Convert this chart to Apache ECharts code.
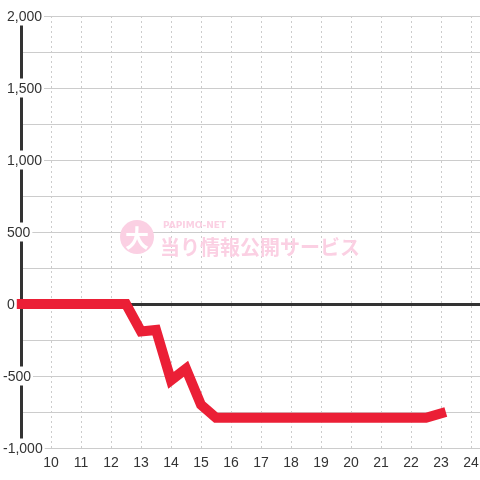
<!DOCTYPE html>
<html><head><meta charset="utf-8">
<script src="https://cdn.jsdelivr.net/npm/echarts@6/dist/echarts.min.js"></script>
<style>html,body{margin:0;padding:0;background:#fff}#c{width:480px;height:480px}</style>
</head><body><div id="c"></div>
<script>
var times = [9, 9.5, 10, 10.5, 11, 11.5, 12, 12.5, 13, 13.5, 14, 14.5, 15, 15.5, 16, 16.5, 17, 17.5, 18, 18.5, 19, 19.5, 20, 20.5, 21, 21.5, 22, 22.5, 23];
var values = [0, 0, 0, 0, 0, 0, 0, 0, -190, -180, -530, -450, -700, -790, -790, -790, -790, -790, -790, -790, -790, -790, -790, -790, -790, -790, -790, -790, -760];
var yTicks = [-1000, -500, 0, 500, 1000, 1500, 2000];
var xTicks = [10, 11, 12, 13, 14, 15, 16, 17, 18, 19, 20, 21, 22, 23, 24];

var data = times.map(function (t, i) { return [t, values[i]]; });
var chart = echarts.init(document.getElementById('c'), null, {renderer: 'canvas'});
var fmtNum = function (v) { return String(v).replace(/\B(?=(\d{3})+(?!\d))/g, ','); };
var pink = '#fbd0e3';
var labelFont = 'Liberation Sans, Arial, sans-serif';
var yMin = -1000, yMax = 2000, xMin = 9, xMax = 24.3;
chart.setOption({
  animation: false,
  backgroundColor: '#ffffff',
  grid: {left: 21, right: 0, top: 16, bottom: 32, containLabel: false, outerBoundsMode: 'none'},
  xAxis: [{
    type: 'value', min: xMin, max: xMax, interval: 1, position: 'bottom', z: 0,
    axisLine: {show: true, onZero: false, lineStyle: {color: '#cccccc', width: 1}},
    axisTick: {show: false},
    axisLabel: {
      margin: 8, color: '#333', fontSize: 14, fontFamily: labelFont,
      formatter: function (v) { return xTicks.indexOf(v) >= 0 ? String(v) : ''; }
    },
    splitLine: {show: true, lineStyle: {color: '#cccccc', type: [2, 3], width: 1}}
  }, {
    type: 'value', min: xMin, max: xMax, interval: 1, position: 'bottom', z: 0,
    axisLine: {show: true, onZero: true, lineStyle: {color: '#333333', width: 3}},
    axisTick: {show: false}, axisLabel: {show: false}, splitLine: {show: false}
  }],
  yAxis: [{
    type: 'value', min: yMin, max: yMax, interval: 500, position: 'left', z: 0,
    axisLine: {show: true, onZero: false, lineStyle: {color: '#333333', width: 3}},
    axisTick: {show: false},
    minorTick: {show: false, splitNumber: 2},
    minorSplitLine: {show: true, lineStyle: {color: '#cccccc', width: 1}},
    splitLine: {show: true, lineStyle: {color: '#cccccc', width: 1}},
    axisLabel: {show: false}
  }, {
    type: 'value', min: yMin, max: yMax, interval: 500, position: 'left', z: 6,
    axisLine: {show: false}, axisTick: {show: false}, splitLine: {show: false},
    axisLabel: {
      margin: 18, align: 'left',
      formatter: function (v) {
        if (yTicks.indexOf(v) < 0) return '';
        return (v < 0 ? '{n|' : '{p|') + fmtNum(v) + '}';
      },
      rich: {
        p: {color: '#333', fontSize: 14, fontFamily: labelFont, backgroundColor: '#ffffff', padding: [4, 2, 1, 4], lineHeight: 16},
        n: {color: '#333', fontSize: 14, fontFamily: labelFont, backgroundColor: '#ffffff', padding: [4, 2, 1, 0], lineHeight: 16}
      }
    }
  }],
  graphic: [
    {type: 'circle', shape: {cx: 137, cy: 237, r: 17}, style: {fill: pink}, z: 1},
    {type: 'text', x: 137, y: 238, style: {text: '大', fill: '#ffffff', font: 'bold 24px "Noto Sans CJK JP"', align: 'center', verticalAlign: 'middle'}, z: 1},
    {type: 'text', x: 163, y: 226, style: {text: 'PAPIMO-NET', fill: pink, font: 'bold 9px "DejaVu Sans"', align: 'left', verticalAlign: 'middle'}, z: 1},
    {type: 'text', x: 160, y: 247, style: {text: '当り情報公開サービス', fill: pink, font: 'bold 20px "Noto Sans CJK JP"', align: 'left', verticalAlign: 'middle'}, z: 1}
  ],
  series: [{
    type: 'line', xAxisIndex: 0, yAxisIndex: 0, data: data, showSymbol: false, clip: false, silent: true, z: 3,
    lineStyle: {color: '#eb1f36', width: 10, cap: 'square', join: 'miter'},
    itemStyle: {color: '#eb1f36'}
  }]
});
</script>
</body></html>
